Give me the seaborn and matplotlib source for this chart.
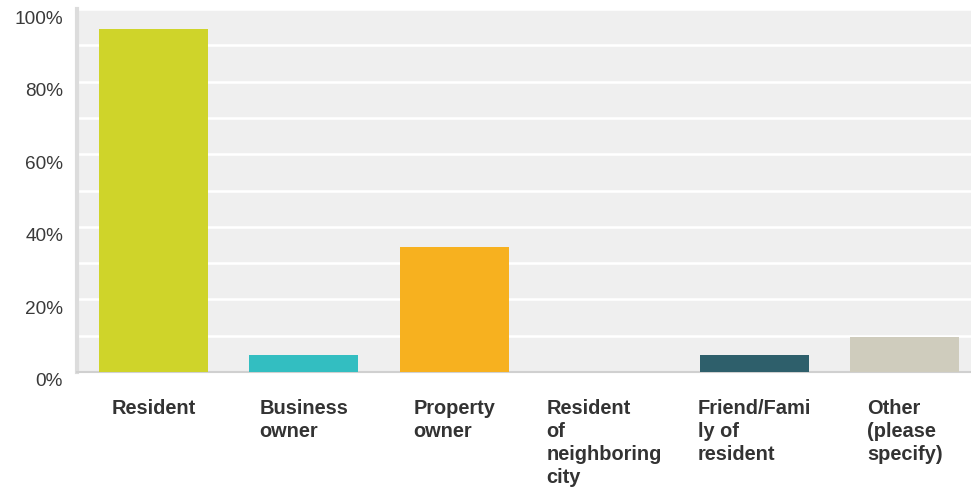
import matplotlib
matplotlib.use("Agg")
import matplotlib.pyplot as plt
import matplotlib.transforms as mtransforms
import seaborn as sns
import pandas as pd

categories = ["Resident", "Business\nowner", "Property\nowner",
              "Resident\nof\nneighboring\ncity", "Friend/Fami\nly of\nresident",
              "Other\n(please\nspecify)"]
values = [94.6, 4.7, 34.5, 0.0, 4.7, 9.7]
colors = ["#CFD42A", "#33BEC1", "#F7B11F", "#A7C548", "#2E5F6B", "#CFCCBD"]
yticks = [0, 20, 40, 60, 80, 100]
ytick_labels = ["0%", "20%", "40%", "60%", "80%", "100%"]

sns.set_style("white", {"axes.facecolor": "#EFEFEF"})
plt.rcParams["font.family"] = ["Liberation Sans", "DejaVu Sans"]

df = pd.DataFrame({"cat": categories, "val": values})

fig = plt.figure(figsize=(9.71, 4.92), dpi=100)
ax = fig.add_axes([77 / 971, 1 - 372 / 492, 1 - 77 / 971, (372 - 9) / 492])

sns.barplot(data=df, x="cat", y="val", hue="cat", palette=colors,
            legend=False, width=0.725, ax=ax, saturation=1, zorder=3,
            linewidth=0, edgecolor="none")

ax.set_ylim(0, 100)
ax.set_xlim(-0.51, 5.44)
ax.set_yticks(yticks)
ax.set_yticklabels(ytick_labels, fontsize=13.7, color="#3A3A3A")
ax.set_yticks(range(10, 100, 20), minor=True)
ax.grid(axis="y", which="both", color="white", linewidth=1.8, zorder=1)
ax.set_axisbelow(True)
ax.set_xlabel("")
ax.set_ylabel("")

ax.set_xticks(range(len(categories)))
ax.set_xticklabels(categories, fontsize=14.4, fontweight="bold", color="#333333",
                   ha="center", ma="left", va="top", linespacing=1.27)
ax.tick_params(axis="x", length=0, pad=19.5)
ax.tick_params(axis="y", length=0, pad=10, which="both")

off_y = mtransforms.ScaledTranslation(0, -8 / 100, fig.dpi_scale_trans)
for lbl in ax.get_yticklabels():
    lbl.set_transform(lbl.get_transform() + off_y)

for s in ["top", "right"]:
    ax.spines[s].set_visible(False)
ax.spines["left"].set_color("#DCDCDC")
ax.spines["left"].set_linewidth(3)
ax.spines["bottom"].set_color("#D0D0D0")
ax.spines["bottom"].set_linewidth(1.5)

fig.savefig("out.png", dpi=100)
